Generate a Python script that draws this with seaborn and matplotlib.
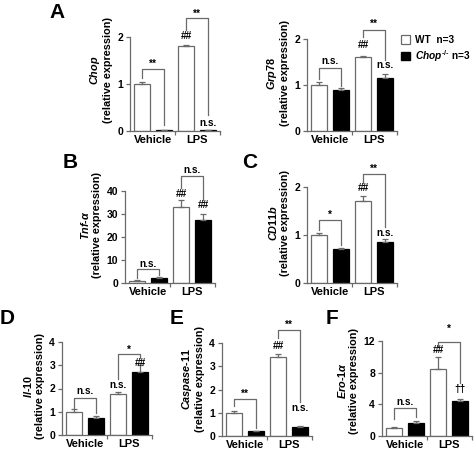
import numpy as np
import pandas as pd
import matplotlib
matplotlib.use("Agg")
import matplotlib.pyplot as plt
import seaborn as sns
from matplotlib.patches import Patch

# --- data ---
treatments = ["Vehicle", "LPS"]
genotypes = ["WT", "KO"]

chop_wt = [1.0, 1.8]
chop_ko = [0.02, 0.02]
chop_wt_err = [0.05, 0.04]
chop_ko_err = [0.0, 0.0]

grp78_wt = [1.0, 1.6]
grp78_ko = [0.9, 1.15]
grp78_wt_err = [0.07, 0.03]
grp78_ko_err = [0.04, 0.09]

tnf_wt = [1.0, 33.0]
tnf_ko = [2.0, 27.2]
tnf_wt_err = [0.2, 3.0]
tnf_ko_err = [0.8, 3.0]

cd11b_wt = [1.0, 1.7]
cd11b_ko = [0.7, 0.86]
cd11b_wt_err = [0.04, 0.11]
cd11b_ko_err = [0.02, 0.06]

il10_wt = [1.0, 1.75]
il10_ko = [0.75, 2.72]
il10_wt_err = [0.1, 0.1]
il10_ko_err = [0.05, 0.3]

casp11_wt = [1.0, 3.4]
casp11_ko = [0.2, 0.4]
casp11_wt_err = [0.06, 0.13]
casp11_ko_err = [0.03, 0.03]

ero1a_wt = [1.0, 8.5]
ero1a_ko = [1.7, 4.4]
ero1a_wt_err = [0.1, 1.5]
ero1a_ko_err = [0.15, 0.25]

W, H = 475, 453
EDGE = "#6a6a6a"

plt.rcParams["font.family"] = ["Liberation Sans", "DejaVu Sans"]
plt.rcParams["font.weight"] = "bold"
plt.rcParams["axes.labelweight"] = "bold"
plt.rcParams["mathtext.fontset"] = "custom"
plt.rcParams["mathtext.it"] = "Liberation Sans:italic:bold"
plt.rcParams["mathtext.rm"] = "Liberation Sans:bold"
plt.rcParams["mathtext.bf"] = "Liberation Sans:bold"
plt.rcParams["font.size"] = 7.3

fig = plt.figure(figsize=(W / 100, H / 100), dpi=100)


def panel(left, zero, top_px, top_val, ymax, ticks, wt, ko, wt_err, ko_err, ylabel,
          brackets, extra):
    ppu = (zero - top_px) / top_val
    ax = fig.add_axes([left / W, 1 - zero / H, 90 / W, ymax * ppu / H])
    df = pd.DataFrame({
        "treatment": treatments * 2,
        "genotype": ["WT"] * 2 + ["KO"] * 2,
        "value": wt + ko,
    })
    sns.barplot(data=df, x="treatment", y="value", hue="genotype", order=treatments,
                hue_order=genotypes, palette={"WT": "white", "KO": "black"},
                width=1.0, gap=0.3, errorbar=None, legend=False, ax=ax,
                edgecolor=EDGE, linewidth=0.9)
    for p in ax.patches:
        if p.get_facecolor()[0] < 0.5:
            p.set_edgecolor("black")
    x = np.arange(2)
    ax.errorbar(x - 0.25, wt, yerr=[np.zeros(2), wt_err], fmt="none", ecolor=EDGE,
                elinewidth=0.9, capsize=2.2, capthick=0.9)
    ax.errorbar(x + 0.25, ko, yerr=[np.zeros(2), ko_err], fmt="none", ecolor=EDGE,
                elinewidth=0.9, capsize=2.2, capthick=0.9)
    ax.set_xlim(-0.52, 1.52)
    ax.set_ylim(0, ymax)
    ax.set_yticks(ticks)
    ax.set_yticklabels([str(t) for t in ticks], fontweight="bold")
    ax.set_xticks([0, 1])
    ax.set_xticklabels(treatments, fontweight="bold")
    ax.spines["left"].set_bounds(0, top_val)
    for s in ["top", "right"]:
        ax.spines[s].set_visible(False)
    for s in ["left", "bottom"]:
        ax.spines[s].set_color(EDGE)
        ax.spines[s].set_linewidth(0.9)
    ax.tick_params(axis="y", length=3, width=0.9, color=EDGE, pad=2, labelsize=7.5)
    ax.tick_params(axis="x", length=0, pad=3, labelsize=8)
    ax.set_xticks([0.5, 1.52], minor=True)
    ax.tick_params(axis="x", which="minor", length=3, width=0.9, color=EDGE)
    ax.set_xlabel("")
    ax.set_ylabel(ylabel, fontsize=7.8, labelpad=3, linespacing=1.15, fontweight="bold")
    ax.patch.set_alpha(0)
    # significance brackets: (group, left leg bottom, top, right leg bottom, label, label y)
    for g, yl, top, yr, lab, ly in brackets:
        ax.plot([g - 0.25, g - 0.25, g + 0.25, g + 0.25], [yl, top, top, yr],
                color=EDGE, lw=0.9, clip_on=False)
        ax.text(g, ly, lab, ha="center", va="center", fontsize=7.3, clip_on=False)
    for xo, y, lab in extra:
        ax.text(xo, y, lab, ha="center", va="center", fontsize=7.3, clip_on=False)
    return ax


# A: Chop
panel(130, 131, 37, 2, 2.6, [0, 1, 2], chop_wt, chop_ko, chop_wt_err, chop_ko_err,
      "$Chop$\n(relative expression)",
      [(0, 1.12, 1.32, 0.12, "**", 1.43), (1, 2.15, 2.4, 0.34, "**", 2.5)],
      [(0.75, 2.03, "##"), (1.25, 0.17, "n.s.")])

# A: Grp78
ax = panel(307, 131, 39, 2, 2.5, [0, 1, 2], grp78_wt, grp78_ko, grp78_wt_err,
           grp78_ko_err, "$Grp\\mathit{78}$\n(relative expression)",
           [(0, 1.12, 1.37, 0.98, "n.s.", 1.52), (1, 2.04, 2.2, 1.54, "**", 2.33)],
           [(0.75, 1.87, "##"), (1.25, 1.43, "n.s.")])
handles = [Patch(facecolor="white", edgecolor=EDGE, linewidth=0.9),
           Patch(facecolor="black", edgecolor="black")]
fig.legend(handles, ["WT  n=3", "$Chop^{\u2010/\u2010}$ n=3"], loc="upper left",
           bbox_to_anchor=(401 / W, 1 - 35 / H), frameon=False, fontsize=7.3,
           handlelength=0.85, handleheight=0.85, handletextpad=0.55, labelspacing=0.3,
           borderpad=0, borderaxespad=0)

# B: Tnf-a
panel(125, 283, 191, 40, 50, [0, 10, 20, 30, 40], tnf_wt, tnf_ko, tnf_wt_err,
      tnf_ko_err, "$Tnf$-$\\alpha$\n(relative expression)",
      [(0, 2.0, 6.1, 3.5, "n.s.", 8.3), (1, 41.3, 46.5, 36, "n.s.", 49.2)],
      [(0.75, 38.7, "##"), (1.25, 34, "##")])

# C: CD11b
panel(307, 283, 187, 2, 2.5, [0, 1, 2], cd11b_wt, cd11b_ko, cd11b_wt_err,
      cd11b_ko_err, "$CD\\mathit{11}b$\n(relative expression)",
      [(0, 1.1, 1.31, 0.79, "*", 1.42), (1, 2.08, 2.27, 1.17, "**", 2.38)],
      [(0.75, 1.97, "##"), (1.25, 1.04, "n.s.")])

# D: Il-10
panel(62, 435, 342, 4, 4.2, [0, 1, 2, 3, 4], il10_wt, il10_ko, il10_wt_err,
      il10_ko_err, "$Il$-$\\mathit{10}$\n(relative expression)",
      [(0, 1.15, 1.6, 0.95, "n.s.", 1.9), (1, 2.4, 3.5, 3.3, "*", 3.65)],
      [(0.75, 2.15, "n.s."), (1.25, 3.1, "##")])

# E: Caspase-11
panel(222, 436, 343, 4, 4.9, [0, 1, 2, 3, 4], casp11_wt, casp11_ko, casp11_wt_err,
      casp11_ko_err, "$Caspase$-$\\mathit{11}$\n(relative expression)",
      [(0, 1.28, 1.6, 0.35, "**", 1.8), (1, 4.23, 4.57, 1.45, "**", 4.8)],
      [(0.75, 3.86, "##"), (1.25, 1.2, "n.s.")])

# F: Ero-1a
panel(382, 436, 341, 12, 14, [0, 4, 8, 12], ero1a_wt, ero1a_ko, ero1a_wt_err,
      ero1a_ko_err, "$Ero$-$\\mathit{1}\\alpha$\n(relative expression)",
      [(0, 2.2, 3.6, 2.4, "n.s.", 4.3), (1, 11.3, 11.9, 6.65, "*", 13.5)],
      [(0.75, 10.9, "##"), (1.25, 5.9, "\u2020\u2020")])

for lab, x, y in [("A", 57, 12), ("B", 70, 162), ("C", 250, 163),
                  ("D", 7, 318), ("E", 177, 318), ("F", 332, 318)]:
    fig.text(x / W, 1 - y / H, lab, ha="center", va="center", fontsize=15,
             fontweight="bold")

fig.savefig("out.png", dpi=100)
